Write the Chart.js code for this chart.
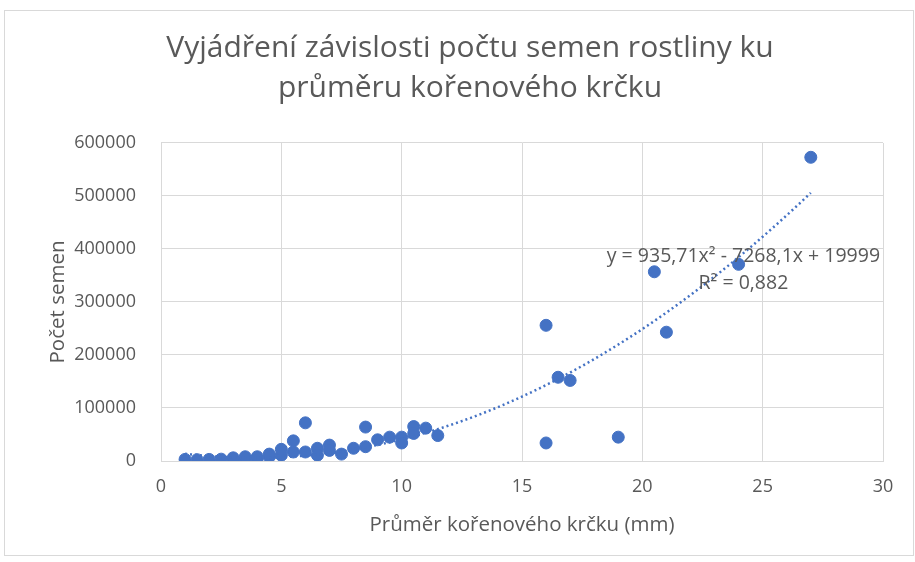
<!DOCTYPE html>
<html>
<head>
<meta charset="utf-8">
<script src="https://cdn.jsdelivr.net/npm/chart.js@4.4.1/dist/chart.umd.min.js"></script>
<style>
  html, body { margin: 0; padding: 0; background: #ffffff; }
  #ramecek {
    position: absolute; left: 4px; top: 10px; width: 910px; height: 546px;
    border: 1px solid #d9d9d9; box-sizing: border-box;
  }
  #obal { position: absolute; left: 0; top: 0; width: 915px; height: 562px; }
</style>
</head>
<body>
<div id="ramecek"></div>
<div id="obal"><canvas id="graf"></canvas></div>
<script>
// prumer korenoveho krcku (mm)
let prumer = [
  1, 1.5, 2, 2.5, 3, 3, 3.5, 3.5, 4, 4, 4.5, 4.5,
  5, 5, 5.5, 5.5, 6, 6, 6.5, 6.5, 7, 7, 7.5, 8,
  8.5, 8.5, 9, 9.5, 10, 10, 10.5, 10.5, 11, 11.5,
  16, 16, 16.5, 17, 19, 20.5, 21, 24, 27
];
// pocet semen
let semena = [
  3000, 2500, 3000, 3500, 3000, 6000, 4000, 8000, 4000, 8000, 8000, 13000,
  11000, 22000, 17000, 38000, 72000, 17000, 24000, 11000, 30000, 20000, 13000, 24000,
  64000, 27000, 40000, 45000, 45000, 34000, 65000, 52000, 62000, 48000,
  256000, 34000, 158000, 152000, 45000, 357000, 243000, 371000, 573000
];
let osaXTicky = [0, 5, 10, 15, 20, 25, 30];
let osaYTicky = [0, 100000, 200000, 300000, 400000, 500000, 600000];

// koeficienty polynomu 2. radu z popisku grafu (a*x^2 + b*x + c)
let koeficienty = [935.71, -7268.1, 19999];
let rovnice = "y = 935,71x² - 7268,1x + 19999";
let spolehlivost = "R² = 0,882";

let body = [];
for (let i = 0; i < prumer.length; i++) {
  body.push({ x: prumer[i], y: semena[i] });
}

let trend = [];
let xMin = Math.min(...prumer);
let xMax = Math.max(...prumer);
for (let x = xMin; x <= xMax + 0.0001; x += 0.25) {
  trend.push({ x: x, y: koeficienty[0] * x * x + koeficienty[1] * x + koeficienty[2] });
}

let sedaText = "#595959";
let mrizka = "#d9d9d9";
let modra = "#4472c4";

let popisekTrendu = {
  id: "popisekTrendu",
  afterDatasetsDraw(chart) {
    let ctx = chart.ctx;
    let sx = chart.scales.x;
    let sy = chart.scales.y;
    ctx.save();
    ctx.fillStyle = sedaText;
    ctx.font = "19.5px 'Open Sans'";
    ctx.textAlign = "center";
    ctx.textBaseline = "middle";
    ctx.fillText(rovnice, sx.getPixelForValue(24.2), sy.getPixelForValue(385000));
    ctx.fillText(spolehlivost, sx.getPixelForValue(24.2), sy.getPixelForValue(335000));
    ctx.restore();
  }
};

new Chart(document.getElementById("graf"), {
  type: "scatter",
  data: {
    datasets: [
      {
        label: "Polynom.",
        data: trend,
        showLine: true,
        borderColor: modra,
        borderWidth: 2.5,
        borderDash: [2, 3],
        pointRadius: 0,
        fill: false
      },
      {
        label: "Počet semen",
        data: body,
        backgroundColor: modra,
        borderColor: modra,
        pointRadius: 6,
        pointHoverRadius: 6
      }
    ]
  },
  options: {
    responsive: true,
    maintainAspectRatio: false,
    animation: false,
    layout: { padding: { left: 57, right: 32, top: 0, bottom: 6 } },
    plugins: {
      legend: { display: false },
      tooltip: { enabled: false },
      title: {
        display: true,
        text: ["Vyjádření závislosti počtu semen rostliny ku", "průměru kořenového krčku"],
        color: sedaText,
        font: { family: "'Open Sans'", size: 30, weight: "normal", lineHeight: 1.333 },
        padding: { top: 28, bottom: 35 }
      }
    },
    scales: {
      x: {
        type: "linear",
        min: 0,
        max: 30,
        afterBuildTicks(scale) { scale.ticks = osaXTicky.map(v => ({ value: v })); },
        afterFit(scale) { scale.height = 95; },
        grid: { color: mrizka, tickLength: 0 },
        border: { color: mrizka },
        ticks: { color: sedaText, font: { family: "'Open Sans'", size: 18 }, padding: 15 },
        title: {
          display: true,
          text: "Průměr kořenového krčku (mm)",
          color: sedaText,
          font: { family: "'Open Sans'", size: 20.5 },
          padding: { top: 0, bottom: 19 }
        }
      },
      y: {
        type: "linear",
        min: 0,
        max: 600000,
        afterBuildTicks(scale) { scale.ticks = osaYTicky.map(v => ({ value: v })); },
        afterFit(scale) { scale.width = 104; },
        grid: { color: mrizka, tickLength: 0 },
        border: { color: mrizka },
        ticks: {
          color: sedaText,
          font: { family: "'Open Sans'", size: 18 },
          padding: 25,
          callback: function (v) { return String(v); }
        },
        title: {
          display: true,
          text: "Počet semen",
          color: sedaText,
          font: { family: "'Open Sans'", size: 20.5 },
          padding: { top: -11, bottom: 0 }
        }
      }
    }
  },
  plugins: [popisekTrendu]
});
</script>
</body>
</html>
